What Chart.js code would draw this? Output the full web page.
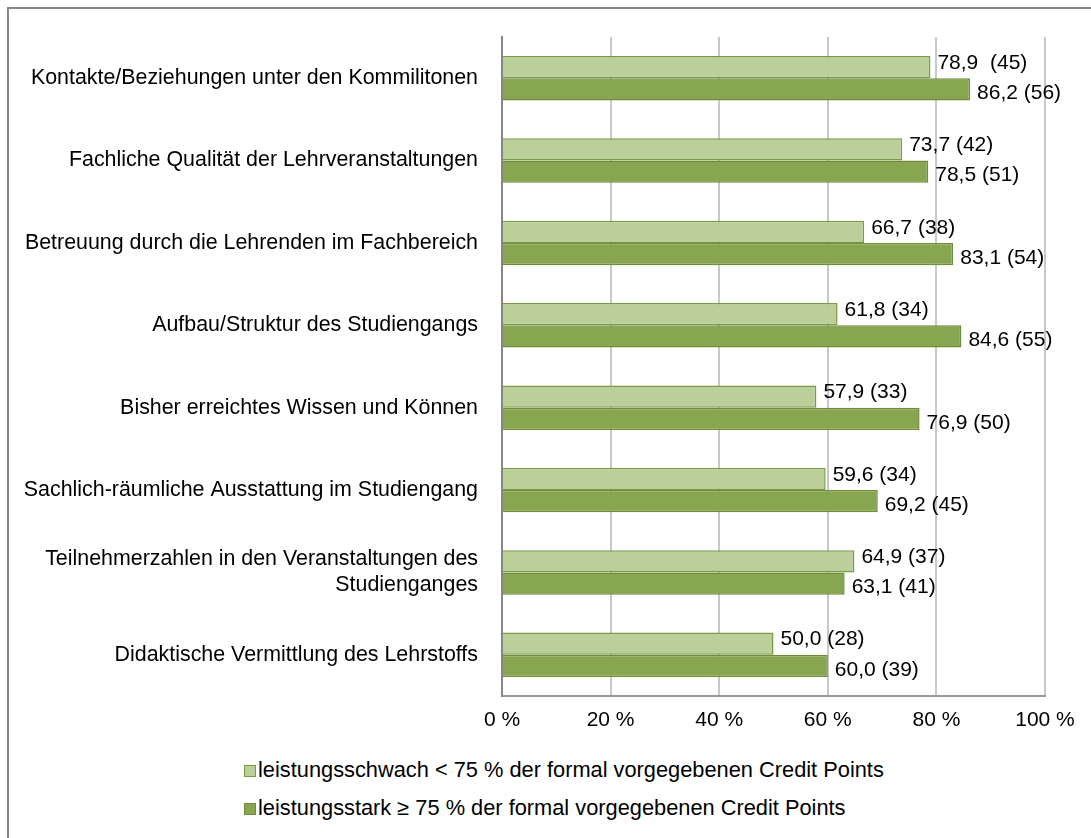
<!DOCTYPE html>
<html lang="de">
<head>
<meta charset="utf-8">
<title>Zufriedenheit nach Leistungsgruppe</title>
<script src="https://cdn.jsdelivr.net/npm/chart.js@4/dist/chart.umd.min.js"></script>
<style>
  body { margin: 0; background: #fff; overflow: hidden; font-family: "Liberation Sans", Arial, sans-serif; }
  #frame { position: absolute; left: 7px; top: 7px; width: 1200px; height: 900px; border: 2px solid #878787; box-sizing: border-box; }
  #wrap { position: absolute; left: 0; top: 0; width: 1091px; height: 838px; }
  canvas { position: absolute; left: 0; top: 0; }
  #legend { position: absolute; left: 244px; top: 757px; font-size: 21.8px; color: #000; }
  .item { height: 26px; line-height: 26px; margin-bottom: 12px; white-space: nowrap; }
  .box { display: inline-block; width: 12px; height: 12px; margin-right: 2px; vertical-align: 0px; box-sizing: border-box; border: 1px solid #77933C; }
</style>
</head>
<body>
<div id="frame"></div>
<div id="wrap">
  <canvas id="chart" width="1091" height="740"></canvas>
  <div id="legend"></div>
</div>
<script>
// Kategorien (y-Achse)
const categories = [
    'Kontakte/Beziehungen unter den Kommilitonen',
    'Fachliche Qualität der Lehrveranstaltungen',
    'Betreuung durch die Lehrenden im Fachbereich',
    'Aufbau/Struktur des Studiengangs',
    'Bisher erreichtes Wissen und Können',
    'Sachlich-räumliche Ausstattung im Studiengang',
    ['Teilnehmerzahlen in den Veranstaltungen des', 'Studienganges'],
    'Didaktische Vermittlung des Lehrstoffs'
];

const seriesNames = [
    'leistungsschwach < 75 % der formal vorgegebenen Credit Points',
    'leistungsstark ≥ 75 % der formal vorgegebenen Credit Points'
];

// Prozentwerte und Fallzahlen (n in Klammern)
const schwachValues = [78.9, 73.7, 66.7, 61.8, 57.9, 59.6, 64.9, 50.0];
const schwachCounts = [45, 42, 38, 34, 33, 34, 37, 28];
const starkValues = [86.2, 78.5, 83.1, 84.6, 76.9, 69.2, 63.1, 60.0];
const starkCounts = [56, 51, 54, 55, 50, 45, 41, 39];

const xTicks = [0, 20, 40, 60, 80, 100];

const fillColors = ['#BACF99', '#88A54F'];
const borderColors = ['#7B9A45', '#6F8C3A'];

const fontFamily = '"Liberation Sans", Arial, sans-serif';

function labelText(value, n, i, j) {
    // im Original steht beim ersten Balken ein doppeltes Leerzeichen
    const gap = (i === 0 && j === 0) ? '  ' : ' ';
    return value.toFixed(1).replace('.', ',') + gap + '(' + n + ')';
}

// Beschriftung rechts neben den Balken: "78,9 (45)"
const valueLabels = {
    id: 'valueLabels',
    afterDatasetsDraw(chart) {
        const ctx = chart.ctx;
        const counts = [schwachCounts, starkCounts];
        const yShift = [-4, 4];
        ctx.save();
        ctx.font = '21px ' + fontFamily;
        ctx.fillStyle = '#000';
        ctx.textAlign = 'left';
        ctx.textBaseline = 'middle';
        chart.data.datasets.forEach((ds, i) => {
            chart.getDatasetMeta(i).data.forEach((bar, j) => {
                ctx.fillText(labelText(ds.data[j], counts[i][j], i, j), bar.x + 7, bar.y + yShift[i]);
            });
        });
        ctx.restore();
    }
};

const ctx = document.getElementById('chart').getContext('2d');

new Chart(ctx, {
    type: 'bar',
    data: {
        labels: categories,
        datasets: [
            {
                label: seriesNames[0],
                data: schwachValues,
                backgroundColor: fillColors[0],
                borderColor: borderColors[0],
                borderWidth: 1.5
            },
            {
                label: seriesNames[1],
                data: starkValues,
                backgroundColor: fillColors[1],
                borderColor: borderColors[1],
                borderWidth: 1.5
            }
        ]
    },
    options: {
        indexAxis: 'y',
        responsive: false,
        animation: false,
        devicePixelRatio: 1,
        categoryPercentage: 0.54,
        barPercentage: 1.0,
        layout: { padding: { top: 37, right: 46, left: 0, bottom: 0 } },
        plugins: {
            legend: { display: false },
            tooltip: { enabled: false }
        },
        scales: {
            x: {
                min: 0,
                max: 100,
                afterBuildTicks: axis => { axis.ticks = xTicks.map(v => ({ value: v })); },
                afterFit: axis => { axis.height = 44; },
                grid: { color: '#C8C8C8', lineWidth: 2, drawTicks: false },
                border: { display: true, color: '#9A9A9A', width: 2 },
                ticks: {
                    padding: 12,
                    color: '#000',
                    font: { family: fontFamily, size: 21 },
                    callback: v => v + ' %'
                }
            },
            y: {
                afterFit: axis => { axis.width = 502; },
                grid: { display: false, drawTicks: false },
                border: { display: true, color: '#868686', width: 2 },
                ticks: {
                    padding: 24,
                    color: '#000',
                    font: { family: fontFamily, size: 21.4, lineHeight: 1.2 }
                }
            }
        }
    },
    plugins: [valueLabels]
});

// Legende als HTML, untereinander
const legend = document.getElementById('legend');
seriesNames.forEach((name, i) => {
    const row = document.createElement('div');
    row.className = 'item';
    const box = document.createElement('span');
    box.className = 'box';
    box.style.background = fillColors[i];
    box.style.borderColor = borderColors[i];
    row.appendChild(box);
    row.appendChild(document.createTextNode(name));
    legend.appendChild(row);
});
</script>
</body>
</html>
